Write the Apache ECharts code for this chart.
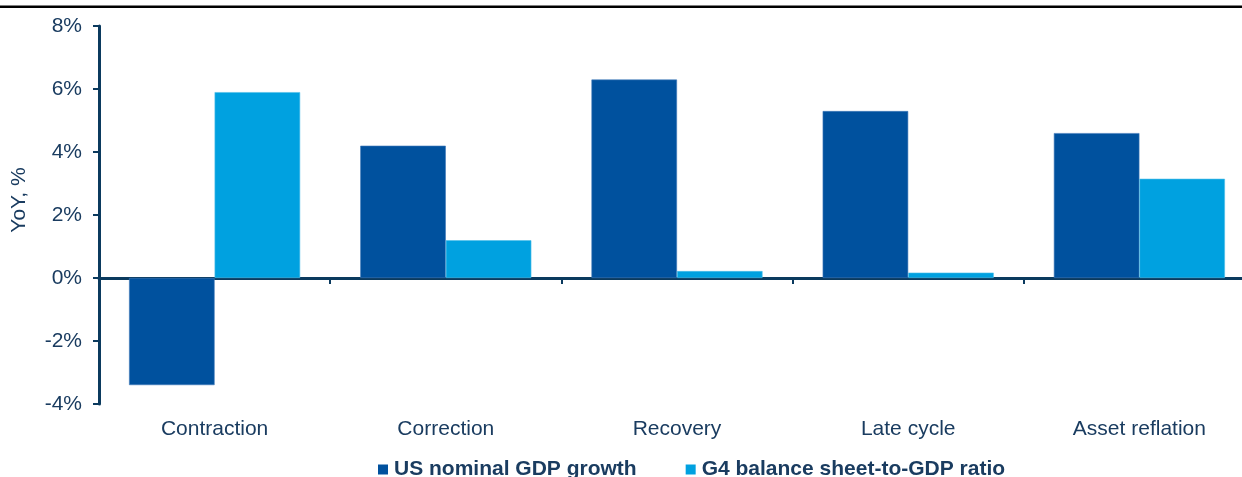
<!DOCTYPE html>
<html>
<head>
<meta charset="utf-8">
<script src="https://cdn.jsdelivr.net/npm/echarts@6/dist/echarts.min.js"></script>
<style>
  html, body { margin: 0; padding: 0; background: #ffffff; }
  #chart { width: 1242px; height: 477px; }
</style>
</head>
<body>
<div id="chart"></div>
<script>
// Phases of the cycle
const categories = ['Contraction', 'Correction', 'Recovery', 'Late cycle', 'Asset reflation'];

// YoY, % by phase
const usNominalGdp = [-3.4, 4.2, 6.3, 5.3, 4.6];
const g4BalanceSheet = [5.9, 1.2, 0.22, 0.17, 3.15];

const seriesNames = ['US nominal GDP growth', 'G4 balance sheet-to-GDP ratio'];

// Value axis range and step
const yMin = -4;
const yMax = 8;
const yStep = 2;

const navy = '#0b3a5e';
const textColor = '#1a3c60';
const darkBlue = '#00519e';
const lightBlue = '#00a1e0';

const chart = echarts.init(document.getElementById('chart'));

chart.setOption({
  animation: false,
  backgroundColor: '#ffffff',
  textStyle: { fontFamily: 'Liberation Sans, Arial, sans-serif' },
  graphic: [
    {
      type: 'rect',
      shape: { x: 0, y: 5.5, width: 1242, height: 2.5 },
      style: { fill: '#000000' }
    },
    {
      type: 'text',
      x: 19,
      y: 200,
      rotation: Math.PI / 2,
      style: {
        text: 'YoY, %',
        fill: textColor,
        font: '21px "Liberation Sans", Arial, sans-serif',
        align: 'center',
        verticalAlign: 'middle'
      }
    }
  ],
  legend: {
    left: 378,
    top: 459,
    padding: 0,
    itemWidth: 10,
    itemHeight: 10,
    itemGap: 49,
    icon: 'rect',
    itemStyle: { borderWidth: 0 },
    textStyle: {
      fontFamily: '"Liberation Sans", Arial, sans-serif',
      fontWeight: 'bold',
      fontSize: 21,
      color: textColor,
      padding: [0, 0, 0, 1]
    },
    data: seriesNames
  },
  grid: { left: 99, top: 26, width: 1156, height: 378, outerBoundsMode: 'none' },
  xAxis: [
    {
      type: 'category',
      data: categories,
      axisLine: { onZero: true, lineStyle: { color: navy, width: 3 } },
      axisTick: { show: true, length: 6, lineStyle: { color: navy, width: 2 } },
      axisLabel: { show: false }
    },
    {
      type: 'category',
      data: categories,
      position: 'bottom',
      axisLine: { show: false, onZero: false },
      axisTick: { show: false },
      axisLabel: { margin: 15, fontSize: 21, color: textColor }
    }
  ],
  yAxis: {
    type: 'value',
    min: yMin,
    max: yMax,
    interval: yStep,
    splitLine: { show: false },
    axisLine: { show: true, lineStyle: { color: navy, width: 3 } },
    axisTick: { show: true, length: 6, lineStyle: { color: navy, width: 2 } },
    axisLabel: {
      margin: 17,
      fontSize: 21,
      color: textColor,
      formatter: v => v + '%'
    }
  },
  series: [
    {
      name: seriesNames[0],
      type: 'bar',
      xAxisIndex: 0,
      data: usNominalGdp,
      barGap: '0%',
      barCategoryGap: '26%',
      itemStyle: { color: darkBlue, borderColor: '#3f78b8', borderWidth: 0.6 }
    },
    {
      name: seriesNames[1],
      type: 'bar',
      xAxisIndex: 0,
      data: g4BalanceSheet,
      barGap: '0%',
      barCategoryGap: '26%',
      itemStyle: { color: lightBlue, borderColor: '#4fc0ea', borderWidth: 0.6 }
    }
  ]
});
</script>
</body>
</html>
